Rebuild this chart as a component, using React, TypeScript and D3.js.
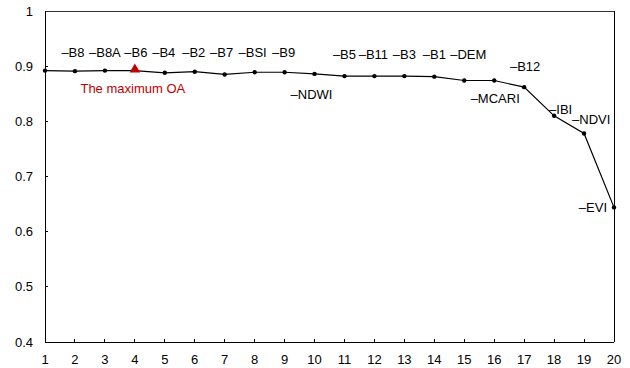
import * as d3 from 'd3'

// feature count (x) vs overall accuracy (y)
const featureCounts = d3.range(1, 21)
const oaValues = [
  0.892, 0.891, 0.892, 0.892, 0.888, 0.890, 0.885, 0.889, 0.889, 0.886,
  0.882, 0.882, 0.882, 0.881, 0.874, 0.874, 0.862, 0.810, 0.778, 0.644,
]
const featureNames = [
  '', 'B8', 'B8A', 'B6', 'B4', 'B2', 'B7', 'BSI', 'B9', 'NDWI',
  'B5', 'B11', 'B3', 'B1', 'DEM', 'MCARI', 'B12', 'IBI', 'NDVI', 'EVI',
]
const yTicks = [0.4, 0.5, 0.6, 0.7, 0.8, 0.9, 1]
const maxIndex = 3 // 4 features -> maximum OA

// label layout: [anchor, dx, y in data units]
const LABEL_LAYOUT: Record<string, [string, number, number]> = {
  B8: ['middle', -2, 0.924], B8A: ['middle', 0, 0.924], B6: ['middle', 1, 0.924],
  B4: ['middle', -1, 0.924], B2: ['middle', -1, 0.924], B7: ['middle', -3, 0.924],
  BSI: ['middle', -2, 0.924], B9: ['middle', -1, 0.924], NDWI: ['middle', -3, 0.848],
  B5: ['middle', 0, 0.921], B11: ['middle', -1, 0.921], B3: ['middle', 0, 0.921],
  B1: ['middle', 0, 0.921], DEM: ['middle', 4, 0.921], MCARI: ['middle', 1, 0.842],
  B12: ['middle', 1, 0.899], IBI: ['start', -5, 0.821], NDVI: ['start', -12, 0.804],
  EVI: ['end', -7, 0.644],
}

const W = 630
const H = 368
const M = { top: 11, right: 16, bottom: 26, left: 45 }
const RED = '#c00000'
const FONT = '"Liberation Sans", Arial, sans-serif'

export default function App() {
  const x = d3.scaleLinear().domain([1, 20]).range([M.left, W - M.right])
  const y = d3.scaleLinear().domain([0.4, 1]).range([H - M.bottom, M.top])
  const line = d3.line<number>()
    .x((_, i) => x(featureCounts[i]))
    .y(d => y(d))

  const x0 = x(1), x1 = x(20), y0 = y(0.4), y1 = y(1)

  return (
    <div style={{ position: 'fixed', left: 0, top: 0, background: '#fff' }}>
      <svg width={W} height={H} style={{ display: 'block', fontFamily: FONT }}>
        {/* frame */}
        <g shapeRendering="crispEdges" stroke="#000" strokeWidth={1}>
          <line x1={x0} x2={x1} y1={y1} y2={y1} stroke="#333" />
          <line x1={x1} x2={x1} y1={y1} y2={y0} />
          <line x1={x0} x2={x0} y1={y1} y2={y0} />
          <line x1={x0} x2={x1} y1={y0} y2={y0} />
          {featureCounts.slice(1, -1).map(c => (
            <line key={c} x1={x(c)} x2={x(c)} y1={y0} y2={y0 - 3} />
          ))}
          {yTicks.slice(1, -1).map(t => (
            <line key={t} x1={x0} x2={x0 + 3} y1={y(t)} y2={y(t)} />
          ))}
        </g>

        {/* tick labels */}
        <g fontSize={13} fill="#000">
          {featureCounts.map(c => (
            <text key={c} x={x(c)} y={y0 + 17} dominantBaseline="central" textAnchor="middle">{c}</text>
          ))}
          {yTicks.map(t => (
            <text key={t} x={x0 - 12} y={y(t)} dominantBaseline="central" textAnchor="end">{d3.format('~g')(t)}</text>
          ))}
        </g>

        {/* series */}
        <path d={line(oaValues) ?? ''} fill="none" stroke="#000" strokeWidth={1.2} />
        {oaValues.map((v, i) => i === maxIndex ? null : (
          <circle key={i} cx={x(featureCounts[i])} cy={y(v)} r={2.2} fill="#000" />
        ))}
        <path
          d={d3.symbol(d3.symbolTriangle, 48)() ?? ''}
          transform={`translate(${x(featureCounts[maxIndex])},${y(oaValues[maxIndex]) - 1})`}
          fill={RED}
        />
        <text x={x(featureCounts[maxIndex]) - 2} y={y(0.86)} fontSize={13} fill={RED}
          textAnchor="middle" dominantBaseline="central">The maximum OA</text>

        {/* feature labels */}
        <g fontSize={13} fill="#000">
          {featureNames.map((name, i) => {
            if (!name) return null
            const [anchor, dx, ly] = LABEL_LAYOUT[name]
            return (
              <text key={name} x={x(featureCounts[i]) + dx} y={y(ly)}
                textAnchor={anchor as any} dominantBaseline="central">{'\u2013' + name}</text>
            )
          })}
        </g>
      </svg>
    </div>
  )
}
